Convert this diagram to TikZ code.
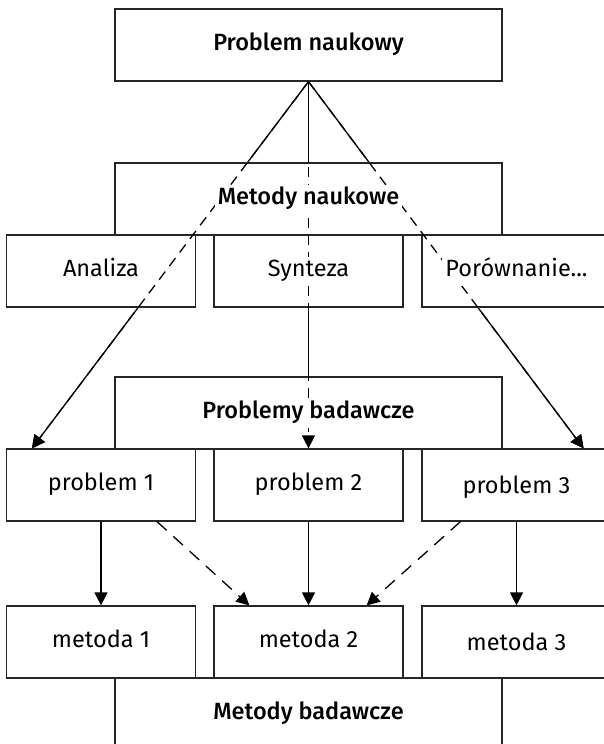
\documentclass[tikz,border=0pt]{standalone}
\usepackage{fontspec}
\setmainfont{Fira Sans}
\newfontfamily\headfont{Fira Sans Medium}
\usetikzlibrary{arrows.meta,calc}
\pgfdeclarelayer{bg}
\pgfdeclarelayer{fg}
\pgfsetlayers{bg,main,fg}

\begin{document}
\begin{tikzpicture}[x=1pt,y=-1pt,
  box/.style={draw=black!85, line width=1.2pt, fill=white, inner sep=0pt, minimum height=72pt},
  widebox/.style={box, minimum width=387pt},
  cellbox/.style={box, minimum width=189pt},
  tag/.style={fill=white, inner sep=3pt, text height=17pt, text depth=6pt,
    font=\fontsize{23.5}{28}\selectfont},
  headtag/.style={tag, font=\headfont\fontsize{23.5}{28}\selectfont},
  link/.style={line width=1.3pt, -{Triangle[length=13pt,width=13pt]}},
  hidden/.style={dash pattern=on 10pt off 7pt},
  crossing/.style={dash pattern=on 13pt off 9pt},
]
\useasboundingbox (0,0) rectangle (603,744);

% boxes
\node[widebox] (pn) at (308.5,45)  {};
\node[widebox] (mn) at (308.5,199) {};
\node[cellbox] (an) at (101,271)   {};
\node[cellbox] (sy) at (308.5,271) {};
\node[cellbox] (po) at (516.5,271) {};
\node[widebox] (pb) at (308.5,413) {};
\node[cellbox] (p1) at (101,485)   {};
\node[cellbox] (p2) at (308.5,485) {};
\node[cellbox] (p3) at (516.5,485) {};
\node[cellbox] (m1) at (101,642)   {};
\node[cellbox] (m2) at (308.5,642) {};
\node[cellbox] (m3) at (516.5,642) {};
\node[widebox] (mb) at (308.5,714) {};

% arrow targets on the tops of the problem boxes
\coordinate (t1) at ($(p1.north west)+(26,0)$);
\coordinate (t3) at ($(p3.north east)+(-28,0)$);

% long connectors: solid beneath the boxes, dashed across them
\begin{pgfonlayer}{bg}
  \draw[link] (pn.south) -- (t1);
  \draw[link] (pn.south) -- (p2.north);
  \draw[link] (pn.south) -- (t3);
\end{pgfonlayer}
\draw[link, hidden] (pn.south) -- (t1);
\draw[link, hidden] (pn.south) -- (p2.north);
\draw[link, hidden] (pn.south) -- (t3);

% problems to methods
\draw[link] (p1.south) -- (m1.north);
\draw[link] (p2.south) -- (m2.north);
\draw[link] (p3.south) -- (m3.north);
\draw[link, crossing] ($(p1.south)+(56,0)$) -- ($(m2.north west)+(36,0)$);
\draw[link, crossing] ($(p3.south)+(-56,0)$) -- ($(m2.north east)+(-37,0)$);

% labels
\begin{pgfonlayer}{fg}
  \node[headtag] (lpn) at (pn) {Problem naukowy};
  \node[headtag] (lmn) at (mn) {Metody naukowe};
  \node[tag] (lan) at (an) {Analiza};
  \node[tag] (lsy) at (sy) {Synteza};
  \node[tag] (lpo) at (po) {Porównanie...};
  \node[headtag] (lpb) at (pb) {Problemy badawcze};
  \node[tag] (lp1) at (p1) {problem 1};
  \node[tag] (lp2) at (p2) {problem 2};
  \node[tag] (lp3) at ($(p3)+(0,3)$) {problem 3};
  \node[tag] (lm1) at (m1) {metoda 1};
  \node[tag] (lm2) at (m2) {metoda 2};
  \node[tag] (lm3) at ($(m3)+(0,3)$) {metoda 3};
  \node[headtag] (lmb) at (mb) {Metody badawcze};
\end{pgfonlayer}
\end{tikzpicture}
\end{document}
